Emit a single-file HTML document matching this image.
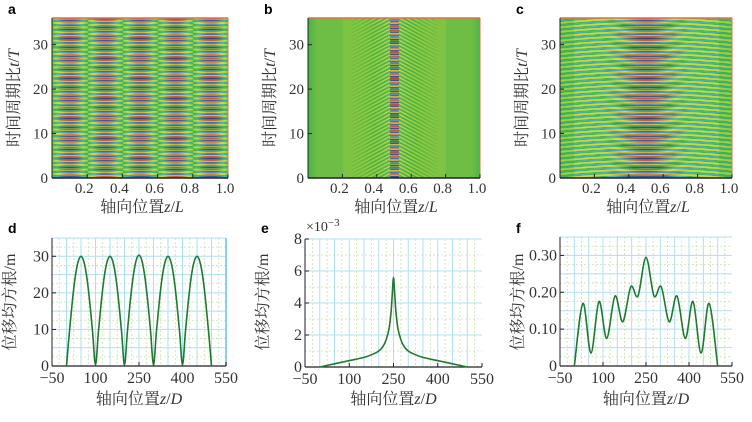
<!DOCTYPE html>
<html><head><meta charset="utf-8">
<style>
html,body{margin:0;padding:0;background:#fff;}
#wrap{position:relative;width:752px;height:422px;overflow:hidden;}
canvas{position:absolute;}
svg{position:absolute;left:0;top:0;}
text{font-family:"Liberation Serif","Noto Serif CJK SC",serif;fill:#333;}
.lt{font-family:"Liberation Sans",sans-serif;font-weight:bold;fill:#000;font-size:14px;}
</style></head>
<body>
<div id="wrap">
<canvas id="ha" width="176" height="160" style="left:52px;top:18px"></canvas>
<canvas id="hb" width="172" height="160" style="left:308px;top:18px"></canvas>
<canvas id="hc" width="172" height="160" style="left:560px;top:18px"></canvas>
<svg id="svg" width="752" height="422" xmlns="http://www.w3.org/2000/svg"></svg>
</div>
<script>
// ---- data for bottom line charts ----
const dZ = [0,10,20,30,40,50,60,70,80,90,100,110,120,130,140,150,160,170,180,190,200,210,220,230,240,250,260,270,280,290,300,310,320,330,340,350,360,370,380,390,400,410,420,430,440,450,460,470,480,490,500];
const dVals = [0,9.3,17.6,24.3,28.5,30,28.5,24.3,17.6,9.3,0.3,9.3,17.6,24.3,28.5,30,28.5,24.3,17.6,9.3,0.3,9.4,17.8,24.5,28.8,30.3,28.8,24.5,17.8,9.4,0.3,9.3,17.6,24.3,28.5,30,28.5,24.3,17.6,9.3,0.3,9.3,17.6,24.3,28.5,30,28.5,24.3,17.6,9.3,0];
const eZ = [0,50,100,150,180,200,215,225,235,242,246,250,254,258,265,275,285,300,320,350,400,450,500];
const eVals = [0,0.2,0.4,0.6,0.8,1.0,1.3,1.7,2.4,3.5,4.6,5.6,4.6,3.5,2.4,1.7,1.3,1.0,0.8,0.6,0.4,0.2,0];
const fZ = [0,30,58,86,113,142,169,197,222,250,278,303,331,358,387,414,442,470,500];
const fVals = [0,0.17,0.035,0.175,0.075,0.19,0.12,0.215,0.19,0.295,0.19,0.215,0.12,0.19,0.075,0.175,0.035,0.17,0];
const xTicksBottom = [-50,100,250,400,550];
const dTicks = [0,10,20,30];
const eTicks = [0,2,4,6,8];
const fTicks = [0,0.10,0.20,0.30];
const fTickLabels = ["0","0.10","0.20","0.30"];
const topXTicks = [0.2,0.4,0.6,0.8,1.0];
const topYTicks = [0,10,20,30];

const NS="http://www.w3.org/2000/svg";
const svg=document.getElementById('svg');
function el(tag,attrs,parent,txt){const e=document.createElementNS(NS,tag);for(const k in attrs)e.setAttribute(k,attrs[k]);if(txt!==undefined)e.textContent=txt;(parent||svg).appendChild(e);return e;}

// ---- heatmaps ----
function cmap(v){
  const stops=[[-1,[30,40,170]],[-0.5,[60,180,230]],[-0.12,[40,170,70]],[0,[110,190,70]],[0.5,[240,230,40]],[1,[230,40,30]]];
  v=Math.max(-1,Math.min(1,v));
  for(let i=0;i<stops.length-1;i++){const a=stops[i],b=stops[i+1];if(v<=b[0]){const t=(v-a[0])/(b[0]-a[0]);return [0,1,2].map(k=>a[1][k]+(b[1][k]-a[1][k])*t);}}
  return stops[stops.length-1][1];
}
function heat(id,f){
  const c=document.getElementById(id),ctx=c.getContext('2d'),W=c.width,H=c.height;
  const img=ctx.createImageData(W,H);
  for(let y=0;y<H;y++){const t=36*(1-y/H);for(let x=0;x<W;x++){const z=x/W;const col=cmap(f(z,t));const i=(y*W+x)*4;img.data[i]=col[0];img.data[i+1]=col[1];img.data[i+2]=col[2];img.data[i+3]=255;}}
  ctx.putImageData(img,0,0);
}
heat('ha',(z,t)=>(0.25+0.75*Math.abs(Math.sin(5*Math.PI*z)))*Math.sign(Math.sin(5*Math.PI*z))*Math.cos(2*Math.PI*t*1.0));
heat('hb',(z,t)=>{const d=Math.abs(z-0.5);if(d<0.025)return Math.cos(2*Math.PI*t*1.2);
  const front=0.22+0.006*(36-t)*0;
  const env=d<0.25?Math.exp(-d/0.12)*0.55:0;
  const base=d<0.3?0.06:(d>0.45?-0.06*Math.min(1,(d-0.45)/0.05):0);
  return base+env*Math.cos(2*Math.PI*(t*1.2+d*25));});
heat('hc',(z,t)=>{const a=0.5+0.5*Math.exp(-Math.pow((z-0.5)/0.15,2));const e=(z<0.08||z>0.92)?0.6:1;return a*e*Math.cos(2*Math.PI*(t*1.0+4*(z-0.5)*(z-0.5)));});

// ---- top panel frames ----
const tops=[{n:'a',L:52,R:228},{n:'b',L:308,R:480},{n:'c',L:560,R:732}];
const TT=18,TB=178;
tops.forEach(p=>{
  const g=el('g',{});
  
  
  const sx=v=>p.L+v*(p.R-p.L), sy=v=>TB-(v/36)*(TB-TT);
  el('line',{x1:p.L,y1:TT,x2:p.R,y2:TT,stroke:'#e07050','stroke-width':1.5},g);
  el('line',{x1:p.R,y1:TT,x2:p.R,y2:TB,stroke:'#e07050','stroke-width':1},g);
  el('line',{x1:p.L,y1:TB,x2:p.R,y2:TB,stroke:'#222','stroke-width':1.5},g);
  el('line',{x1:p.L,y1:TT,x2:p.L,y2:TB,stroke:'#222','stroke-width':1},g);
  topXTicks.forEach(v=>{el('line',{x1:sx(v),y1:TB,x2:sx(v),y2:TB-4,stroke:'#222'},g);
    const t=el('text',{x:sx(v)-3,y:TB+15,'text-anchor':'middle','font-size':15},g,v.toFixed(1));});
  topYTicks.forEach(v=>{el('line',{x1:p.L,y1:sy(v),x2:p.L+4,y2:sy(v),stroke:'#222'},g);
    const t=el('text',{x:p.L-4,y:sy(v)+5,'text-anchor':'end','font-size':15},g,v);});
  const xt=el('text',{x:(p.L+p.R)/2+2,y:212,'text-anchor':'middle','font-size':16},g);
  xt.innerHTML='轴向位置<tspan font-style="italic">z</tspan>/<tspan font-style="italic">L</tspan>';
  
  const yt=el('text',{x:0,y:0,'text-anchor':'middle','font-size':16,transform:`translate(${p.L-33},98) rotate(-90)`},g);
  yt.innerHTML='时间周期比<tspan font-style="italic">t</tspan>/<tspan font-style="italic">T</tspan>';
  
  const lt=el('text',{x:p.L-44,y:14,class:'lt'},g,p.n);
});

// ---- bottom line charts ----
function path(pts){
  let d=`M${pts[0][0]},${pts[0][1]}`;
  for(let i=0;i<pts.length-1;i++){const p0=pts[i-1]||pts[i],p1=pts[i],p2=pts[i+1],p3=pts[i+2]||p2;
    const c1=[p1[0]+(p2[0]-p0[0])/6,p1[1]+(p2[1]-p0[1])/6],c2=[p2[0]-(p3[0]-p1[0])/6,p2[1]-(p3[1]-p1[1])/6];
    d+=` C${c1[0]},${c1[1]} ${c2[0]},${c2[1]} ${p2[0]},${p2[1]}`;}
  return d;
}
const bots=[
 {n:'d',L:52,R:226,B:366,T:238,ymax:35,zs:dZ,vs:dVals,ticks:dTicks,labels:dTicks.map(String),major:5,minor:2.5,rightBorder:true},
 {n:'e',L:305,R:482,B:367,T:239,ymax:8,zs:eZ,vs:eVals,ticks:eTicks,labels:eTicks.map(String),major:2,minor:1},
 {n:'f',L:560,R:732,B:366,T:237,ymax:0.35,zs:fZ,vs:fVals,ticks:fTicks,labels:fTickLabels,major:0.05,minor:0.025}
];
bots.forEach(p=>{
  const g=el('g',{});
  
  
  const sx=v=>p.L+(v+50)/600*(p.R-p.L), sy=v=>p.B-v/p.ymax*(p.B-p.T);
  for(let v=-50+25;v<550;v+=50){const X=sx(v);el('line',{x1:X,y1:p.T,x2:X,y2:p.B,stroke:'#c4e2ae','stroke-width':0.8,'stroke-dasharray':'2,2'},g);}
  for(let v=0;v<=500;v+=50){const X=sx(v);el('line',{x1:X,y1:p.T,x2:X,y2:p.B,stroke:'#b0dfee','stroke-width':1},g);}
  for(let v=p.minor;v<p.ymax;v+=p.major){el('line',{x1:p.L,y1:sy(v),x2:p.R,y2:sy(v),stroke:'#c4e2ae','stroke-width':0.8,'stroke-dasharray':'2,2'},g);}
  for(let v=p.major;v<=p.ymax+1e-9;v+=p.major){el('line',{x1:p.L,y1:sy(v),x2:p.R,y2:sy(v),stroke:'#b0dfee','stroke-width':1},g);}
  if(p.rightBorder)el('line',{x1:p.R,y1:p.T,x2:p.R,y2:p.B,stroke:'#8fd0e8','stroke-width':2},g);
  el('line',{x1:p.L,y1:p.B,x2:p.R,y2:p.B,stroke:'#222','stroke-width':1.2},g);
  el('line',{x1:p.L,y1:p.T,x2:p.L,y2:p.B,stroke:'#222','stroke-width':1},g);
  xTicksBottom.forEach(v=>{el('line',{x1:sx(v),y1:p.B,x2:sx(v),y2:p.B-4,stroke:'#222'},g);
    const t=el('text',{x:sx(v),y:p.B+17,'text-anchor':'middle','font-size':16},g,v<0?'−'+(-v):v);});
  p.ticks.forEach((v,i)=>{el('line',{x1:p.L,y1:sy(v),x2:p.L+4,y2:sy(v),stroke:'#222'},g);
    const t=el('text',{x:p.L-3,y:sy(v)+5,'text-anchor':'end','font-size':16},g,p.labels[i]);});
  const pts=p.zs.map((z,i)=>[sx(z),sy(p.vs[i])]);
  const ln=el('path',{d:path(pts),fill:'none',stroke:'#1f7a30','stroke-width':1.6},g);
  
  const xt=el('text',{x:(p.L+p.R)/2,y:404,'text-anchor':'middle','font-size':16},g);
  xt.innerHTML='轴向位置<tspan font-style="italic">z</tspan>/<tspan font-style="italic">D</tspan>';
  
  const yt=el('text',{x:0,y:0,'text-anchor':'middle','font-size':16,transform:`translate(${p.L-37},302) rotate(-90)`},g);
  yt.textContent='位移均方根/m';
  
  const lt=el('text',{x:p.L-44,y:233,class:'lt'},g,p.n);
});
const ex=el('text',{x:306,y:231,'font-size':14});
ex.innerHTML='×10<tspan dy="-5" font-size="11">−3</tspan>';


</script>
</body></html>
